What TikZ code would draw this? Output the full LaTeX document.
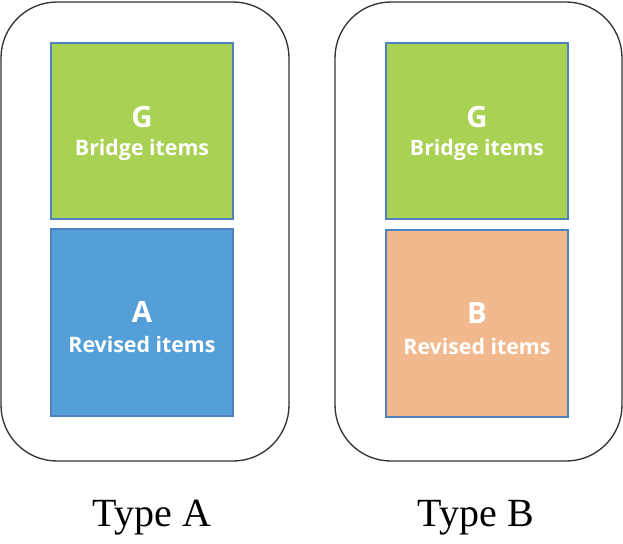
\documentclass[tikz,border=0pt]{standalone}
\usepackage{fontspec}
\setmainfont{Liberation Serif}
\newfontfamily\boxfont{Open Sans}
\definecolor{gr}{HTML}{A9D153}
\definecolor{bl}{HTML}{559FD8}
\definecolor{og}{HTML}{F2B98E}
\definecolor{bd}{HTML}{4F81BD}
\begin{document}
\begin{tikzpicture}[x=0.75pt,y=-0.75pt,
 outer/.style={draw=black!80,line width=1pt,rounded corners=42pt},
 item/.style={draw=bd,line width=0.8pt},
 big/.style={text=white,font=\boxfont\bfseries\fontsize{22}{24}\selectfont},
 small/.style={text=white,font=\boxfont\bfseries\fontsize{16}{18}\selectfont},
 typecap/.style={font=\fontsize{30}{34}\selectfont}]
\useasboundingbox (0,0) rectangle (623,543);
\draw[outer] (1,2) rectangle (289,461);
\draw[outer] (335,2) rectangle (622,461);
\draw[item,fill=gr] (51,43) rectangle (233,219);
\draw[item,fill=bl] (51,229) rectangle (233,416);
\draw[item,fill=gr] (386,43) rectangle (568,219);
\draw[item,fill=og] (386,230) rectangle (568,417);
\node[big] (g1) at (142,117) {G};
\node[small] (g1t) at (142,150) {Bridge items};
\node[big] (a1) at (142,312) {A};
\node[small] (a1t) at (142,344) {Revised items};
\node[big] (g2) at (477,117) {G};
\node[small] (g2t) at (477,150) {Bridge items};
\node[big] (b1) at (477,313) {B};
\node[small] (b1t) at (477,346) {Revised items};
\node[typecap] (ta) at (152,518) {Type A};
\node[typecap] (tb) at (476,518) {Type B};
\end{tikzpicture}
\end{document}
